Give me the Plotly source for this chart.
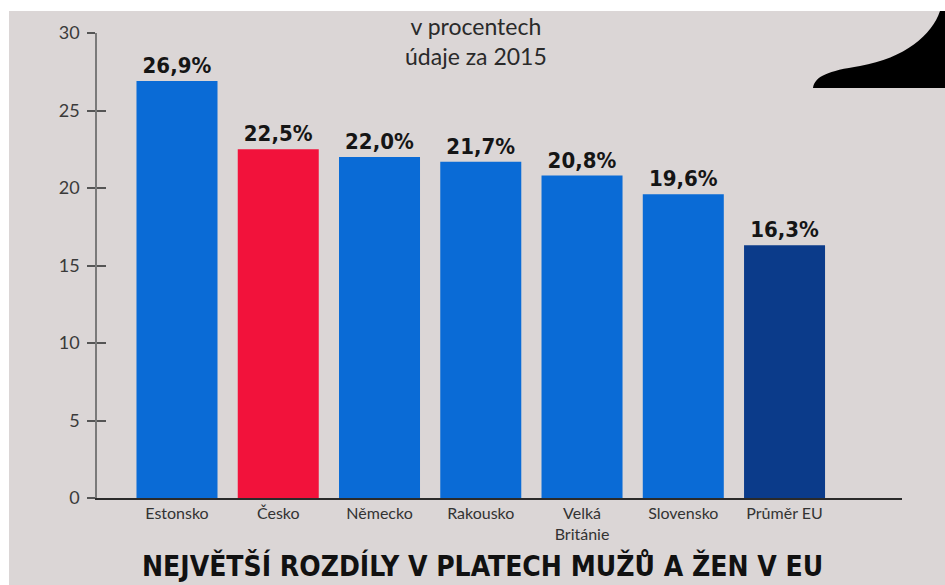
import plotly.graph_objects as go

categories = ["Estonsko", "Česko", "Německo", "Rakousko", "Velká<br>Británie", "Slovensko", "Průměr EU"]
values = [26.9, 22.5, 22.0, 21.7, 20.8, 19.6, 16.3]
labels = ["26,9%", "22,5%", "22,0%", "21,7%", "20,8%", "19,6%", "16,3%"]
bar_colors = ["#0a6bd6", "#f2123b", "#0a6bd6", "#0a6bd6", "#0a6bd6", "#0a6bd6", "#0b3b8a"]
y_ticks = [0, 5, 10, 15, 20, 25, 30]

W, H = 945, 585
L, R, T, B = 97, 902, 33, 498


def px(x):
    return (x - L) / (R - L)


def py(y):
    return (B - y) / (B - T)


fig = go.Figure()
fig.add_trace(go.Bar(
    x=list(range(len(categories))), y=values,
    marker=dict(color=bar_colors, line=dict(width=0)),
    text=labels, textposition="outside", cliponaxis=False,
    textfont=dict(family="DejaVu Sans Condensed, Arial Narrow, sans-serif", size=22,
                  color="#151515", weight="bold"),
    width=0.8, hoverinfo="skip", showlegend=False,
))
# overlay axis for inner half of the crossing ticks
fig.add_trace(go.Scatter(x=[0], y=[0], yaxis="y2", mode="markers",
                         marker=dict(opacity=0), showlegend=False, hoverinfo="skip"))

fig.update_layout(
    width=W, height=H,
    margin=dict(l=L, r=W - R, t=T, b=H - B),
    paper_bgcolor="#dbd6d6", plot_bgcolor="rgba(0,0,0,0)",
    font=dict(family="Lato, Open Sans, sans-serif", color="#333333"),
    bargap=0.2,
    xaxis=dict(
        range=[-0.79, 7.16], tickmode="array", tickvals=list(range(len(categories))),
        ticktext=categories, showgrid=False, zeroline=False, ticks="",
        showline=True, linecolor="#2a2a2a", linewidth=2,
        tickfont=dict(size=16, color="#333333", family="Lato, Open Sans, sans-serif"),
        fixedrange=True,
    ),
    yaxis=dict(
        range=[0, 30], tickmode="array", tickvals=y_ticks, showgrid=False, zeroline=False,
        ticks="outside", ticklen=8, tickwidth=1.5, tickcolor="#555555",
        showline=True, linecolor="#7a7a7a", linewidth=1.5,
        tickfont=dict(size=18, color="#3a3a3a", family="Lato, Open Sans, sans-serif"),
        ticklabelstandoff=4,
    ),
    yaxis2=dict(
        range=[0, 30], overlaying="y", side="left", anchor="x", tickmode="array",
        tickvals=y_ticks, ticks="inside", ticklen=9, tickwidth=1.5, tickcolor="#555555",
        showticklabels=False, showgrid=False, zeroline=False, showline=False,
    ),
    shapes=[
        dict(type="rect", xref="paper", yref="paper", x0=px(0), x1=px(W), y0=py(0), y1=py(11),
             fillcolor="white", line=dict(width=0), layer="below"),
        dict(type="rect", xref="paper", yref="paper", x0=px(0), x1=px(9), y0=py(H), y1=py(0),
             fillcolor="white", line=dict(width=0), layer="below"),
        dict(type="path", xref="paper", yref="paper", fillcolor="black", line=dict(width=0),
             path=(f"M {px(813)} {py(88)} "
                   f"C {px(815)} {py(76)}, {px(828)} {py(71)}, {px(860)} {py(66)} "
                   f"C {px(905)} {py(58)}, {px(932)} {py(35)}, {px(940)} {py(11)} "
                   f"L {px(945)} {py(11)} L {px(945)} {py(88)} Z")),
    ],
    annotations=[
        dict(text="v procentech<br>údaje za 2015", xref="paper", yref="paper",
             x=px(476), y=py(41), xanchor="center", yanchor="middle", showarrow=False,
             font=dict(size=23, color="#2a2a2a", family="Lato, Open Sans, sans-serif")),
        dict(text="<b>NEJVĚTŠÍ ROZDÍLY V PLATECH MUŽŮ A ŽEN V EU</b>", xref="paper", yref="paper",
             x=px(482), y=py(566), xanchor="center", yanchor="middle", showarrow=False,
             font=dict(size=28, color="#111111",
                       family="DejaVu Sans Condensed, Arial Narrow, sans-serif")),
    ],
)

fig.write_html("out.html")
